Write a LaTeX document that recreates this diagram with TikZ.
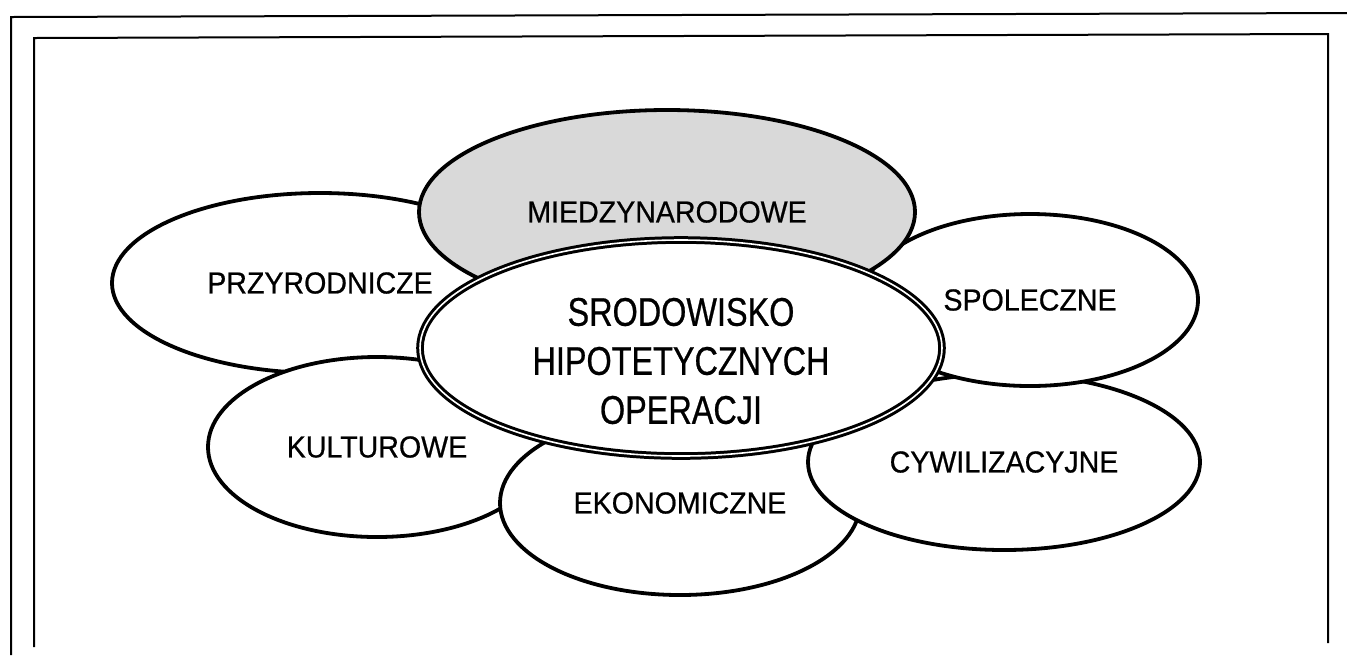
\documentclass[tikz,border=0pt]{standalone}
\usepackage{fontspec}
\setmainfont{Liberation Sans}
\newfontfamily\labelfont[FakeStretch=0.94, FakeBold=0.6]{Liberation Sans}
\newfontfamily\centrefont[FakeStretch=0.81, FakeBold=0.6]{Liberation Sans}
\usetikzlibrary{shapes.geometric}
\definecolor{intlgray}{gray}{0.85}

\begin{document}
\begin{tikzpicture}[x=0.5pt, y=-0.5pt,
	area/.style={ellipse, draw, line width=1.9pt, fill=white, inner sep=0pt,
		font=\labelfont\fontsize{15.2}{18}\selectfont},
	core/.style={area, line width=1.5pt, double=white, double distance=0.8pt},
	coretext/.style={align=center, inner sep=0pt, font=\centrefont\fontsize{20}{24.5}\selectfont},
	frameline/.style={line width=1pt}]
\useasboundingbox (0,0) rectangle (1347,655);
% frames
\draw[frameline] (11,655) -- (11,17) -- (1347,13);
\draw[frameline] (34,647) -- (34,38) -- (1328,34) -- (1328,643);
% ring of environments
\node[area, minimum width=208pt, minimum height=90pt] (przyr) at (320,283) {PRZYRODNICZE};
\node[area, minimum width=169pt, minimum height=90pt] (kult)  at (377,447) {KULTUROWE};
\node[area, minimum width=180pt, minimum height=92pt] (ekon)  at (680,503) {EKONOMICZNE};
\node[area, minimum width=196pt, minimum height=88pt] (cywil) at (1004,462) {CYWILIZACYJNE};
\node[area, minimum width=168pt, minimum height=86pt] (spol)  at (1030,300) {SPOLECZNE};
\node[area, fill=intlgray, minimum width=248pt, minimum height=102pt] (miedz) at (667,212) {MIEDZYNARODOWE};
% centre
\node[core, minimum width=261pt, minimum height=108pt] (srod) at (681,348) {};
\node[coretext] (srodtext) at (681,361) {SRODOWISKO\\HIPOTETYCZNYCH\\OPERACJI};
\end{tikzpicture}
\end{document}
